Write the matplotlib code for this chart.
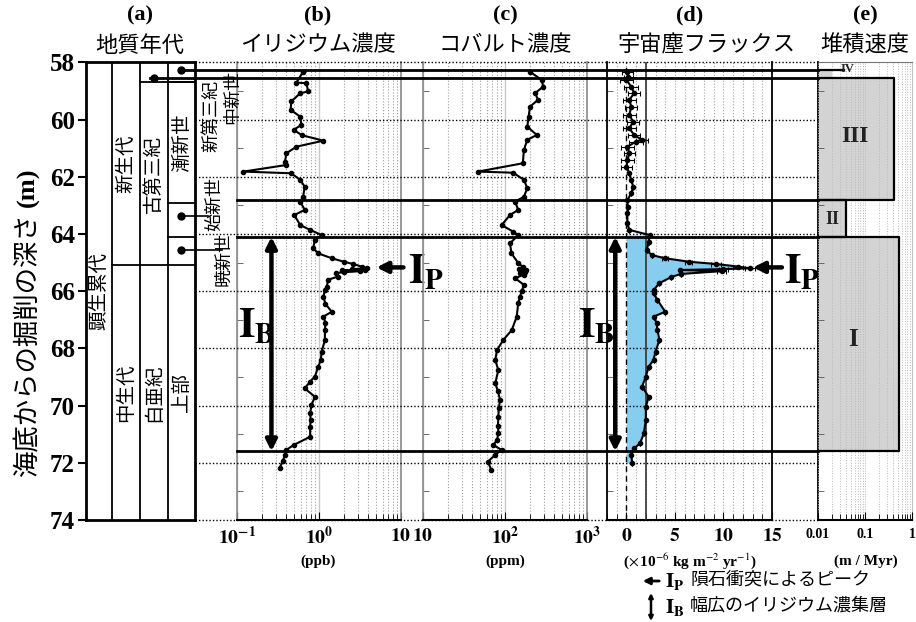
import numpy as np
import matplotlib.pyplot as plt
from matplotlib.lines import Line2D
from matplotlib.patches import FancyArrowPatch
from matplotlib.transforms import blended_transform_factory
from matplotlib.ticker import FixedLocator, MultipleLocator, NullFormatter, LogLocator

plt.rcParams['mathtext.fontset'] = 'stix'
JP = 'Noto Sans CJK JP'
SERIF = 'Liberation Serif'

# Ir concentration (ppb) vs depth (m)
ir_depth = [58.33, 58.71, 58.73, 59.02, 59.08, 59.37, 59.66, 59.90, 60.19, 60.36,
            60.55, 60.74, 60.95, 61.18, 61.47, 61.59, 61.82, 61.88, 62.11, 62.35,
            62.70, 62.87, 63.16, 63.34, 63.69, 63.86, 64.04, 64.21, 64.50, 64.68,
            64.85, 64.97, 65.05, 65.14, 65.20, 65.23, 65.25, 65.27, 65.30, 65.34,
            65.37, 65.49, 65.60, 65.84, 65.96, 66.19, 66.45, 66.72, 66.89, 67.10,
            67.36, 67.71, 68.11, 68.40, 68.64, 68.99, 69.16, 69.40, 69.69, 69.98,
            70.27, 70.50, 70.74, 71.09, 71.38, 71.55, 71.72, 71.95, 72.19]
ir_ppb = [0.64, 0.53, 0.70, 0.74, 0.59, 0.46, 0.45, 0.59, 0.61, 0.49,
          0.62, 1.13, 0.53, 0.40, 0.385, 0.40, 0.12, 0.46, 0.59, 0.67,
          0.64, 0.59, 0.67, 0.50, 0.59, 0.78, 1.08, 0.89, 0.85, 0.98,
          1.43, 2.0, 2.6, 3.3, 3.9, 2.5, 3.6, 1.9, 3.2, 2.0,
          1.6, 1.7, 1.3, 1.24, 1.18, 1.13, 1.2, 1.43, 1.13, 1.2,
          1.18, 1.18, 1.08, 1.05, 0.98, 0.89, 0.78, 0.67, 0.89, 0.81,
          0.78, 0.79, 0.78, 0.78, 0.49, 0.40, 0.385, 0.36, 0.33]

# Co concentration (ppm)
co_depth = [58.33, 58.62, 58.85, 59.08, 59.31, 59.55, 59.90, 60.25, 60.54, 60.71,
            61.06, 61.53, 61.82, 61.86, 62.11, 62.40, 62.70, 62.87, 63.16, 63.34,
            63.69, 63.92, 64.04, 64.33, 64.68, 65.02, 65.15, 65.22, 65.26, 65.30,
            65.34, 65.37, 65.42, 65.55, 65.78, 66.00, 66.19, 66.42, 66.89, 67.36,
            67.71, 68.06, 68.41, 68.76, 69.22, 69.50, 69.80, 70.10, 70.39, 70.70,
            70.97, 71.20, 71.38, 71.55, 71.72, 71.96, 72.25]
co_ppm = [202, 281, 292, 233, 253, 202, 194, 187, 244, 187,
          170, 165, 47, 126, 170, 187, 170, 133, 145, 115,
          91, 126, 145, 115, 120, 145, 165, 150, 180, 155,
          175, 152, 170, 133, 170, 160, 152, 145, 139, 121,
          95, 80, 76, 83, 76, 82, 87, 84, 83, 82,
          83, 80, 72, 91, 76, 62, 68]

# Extraterrestrial dust flux (1e-6 kg m-2 yr-1) with uncertainty
flux_depth = [58.33, 58.50, 58.62, 58.85, 59.08, 59.31, 59.55, 59.84, 60.08, 60.31,
              60.54, 60.71, 60.77, 60.95, 61.18, 61.42, 61.65, 61.88, 62.11, 62.35,
              62.58, 62.82, 63.05, 63.28, 63.63, 63.86, 64.04, 64.27, 64.56, 64.74,
              64.85, 64.97, 65.05, 65.14, 65.20, 65.23, 65.26, 65.30, 65.40, 65.51,
              65.72, 65.96, 66.07, 66.31, 66.72, 66.89, 67.10, 67.36, 67.71, 68.11,
              68.40, 68.64, 68.99, 69.34, 69.69, 70.04, 70.50, 70.97, 71.32, 71.50,
              71.72, 72.00]
flux = [0.1, 0.2, 0.0, 0.5, 0.8, 0.3, 0.5, 0.3, 0.7, 0.3,
        0.8, 1.6, 1.0, 0.1, 0.3, 0.1, 0.0, 0.3, 0.5, 0.7,
        0.5, 0.1, 0.15, 0.1, 0.1, 0.3, 2.4, 2.3, 2.1, 2.6,
        4.0, 6.4, 9.2, 11.5, 12.7, 10.0, 5.5, 9.8, 5.6, 4.6,
        3.4, 2.8, 2.8, 3.2, 4.0, 2.8, 3.1, 3.2, 3.4, 3.0,
        2.8, 2.3, 2.0, 1.6, 2.3, 2.0, 2.0, 1.8, 1.4, 0.8,
        0.5, 0.6]
flux_err = [0.6, 0.5, 0.7, 0.7, 0.6, 0.7, 0.6, 0.7, 0.6, 0.7,
            0.6, 0.6, 0.7, 0.7, 0.6, 0.7, 0.6, 0.0, 0.0, 0.0,
            0.0, 0.0, 0.0, 0.0, 0.0, 0.0, 0.0, 0.0, 0.0, 0.0,
            0.3, 0.4, 0.5, 0.5, 0.5, 0.5, 0.0, 0.5, 0.0, 0.0,
            0.0, 0.0, 0.0, 0.0, 0.0, 0.0, 0.0, 0.0, 0.0, 0.0,
            0.0, 0.0, 0.0, 0.0, 0.0, 0.0, 0.0, 0.0, 0.0, 0.0,
            0.0, 0.0]

# Sedimentation rate intervals (m/Myr)
rate_names = ['IV', 'III', 'II', 'I']
rate_top = [58.27, 58.56, 62.83, 64.10]
rate_bottom = [58.56, 62.83, 64.10, 71.60]
rate_value = [0.02, 0.42, 0.04, 0.53]
iv_marker = 0.035

# Geologic time scale: (label, top, bottom, column)
strat_units = [
    ('顕生累代', 58.0, 74.0, 0),
    ('新生代', 58.0, 65.1, 1),
    ('中生代', 65.1, 74.0, 1),
    ('古第三紀', 58.7, 65.1, 2),
    ('白亜紀', 65.1, 74.0, 2),
    ('漸新世', 58.7, 62.93, 3),
    ('上部', 65.1, 74.0, 3),
]
strat_bounds = [(65.1, 1), (58.7, 2), (58.7, 3), (62.93, 3), (64.1, 3)]
# small units shown with a dot and an outside label
strat_dots = [(58.27, 3), (58.56, 2), (63.36, 3), (64.56, 3)]
boundary_depths = [58.27, 58.56, 62.83, 64.10, 71.60]

W, H = 916, 622
TOP, BOT = 62.3, 520.0


def box(x0, x1):
    return [x0 / W, 1 - BOT / H, (x1 - x0) / W, (BOT - TOP) / H]


def fx(x):
    return x / W


def fy(y):
    return 1 - y / H


fig = plt.figure(figsize=(W / 100, H / 100), dpi=100)

axa = fig.add_axes(box(86, 195))
axb = fig.add_axes(box(237, 401))
axc = fig.add_axes(box(423, 587))
axd = fig.add_axes(box(607, 772))
axe = fig.add_axes(box(818, 912))

for ax in (axa, axb, axc, axd, axe):
    ax.set_ylim(74, 58)
    ax.patch.set_alpha(0)

# ---- (a) geologic column
col_edges = [0, 0.95, 1.98, 3.0, 4.0]
axa.set_xlim(0, 4)
axa.set_xticks([])
for s in axa.spines.values():
    s.set_linewidth(2)
for xe in col_edges[1:-1]:
    axa.axvline(xe, color='k', lw=1.3)
for d, c in strat_bounds:
    axa.plot([col_edges[c], 4], [d, d], color='k', lw=1.3)
for name, t, b, c in strat_units:
    axa.text((col_edges[c] + col_edges[c + 1]) / 2, (t + b) / 2, name, rotation=90,
             ha='center', va='center', fontsize=14, family=JP)
for d, c in strat_dots:
    axa.plot((col_edges[c] + col_edges[c + 1]) / 2, d, 'o', color='k', ms=5)
axa.set_yticks(np.arange(58, 75, 2))
axa.set_yticklabels([str(v) for v in range(58, 75, 2)], fontsize=18,
                    family=SERIF, weight='bold')
axa.tick_params(axis='y', direction='out', length=6, width=1.5, pad=2)

# ---- shared styling for data panels
for ax in (axb, axc, axd, axe):
    ax.yaxis.set_major_locator(FixedLocator([]))
    ax.yaxis.set_minor_locator(FixedLocator(np.arange(59, 74, 2)))
    ax.tick_params(axis='y', which='minor', direction='in', length=4, left=True,
                   right=False, labelleft=False, color='#555')
    ax.tick_params(axis='x', which='major', direction='in', length=6, pad=4)
    ax.tick_params(axis='x', which='minor', direction='in', length=4)
    ax.spines['top'].set_visible(False)
    ax.spines['bottom'].set_linewidth(1.5)

for ax, lo, hi in ((axb, 0.1, 10), (axc, 10, 1000)):
    ax.set_xscale('log')
    ax.set_xlim(lo, hi)
    ax.xaxis.set_minor_locator(LogLocator(subs=np.arange(2, 10)))
    ax.xaxis.set_minor_formatter(NullFormatter())
    ax.grid(which='minor', axis='x', ls=':', color='#a0a0a0', lw=0.8)
    ax.grid(which='major', axis='x', ls='-', color='#c8c8c8', lw=1.0)
    for side in ('left', 'right'):
        ax.spines[side].set_color('#8a8a8a')
        ax.spines[side].set_linewidth(1.2)

tick_font = dict(fontsize=14)
axb.set_xticks([0.1, 1, 10])
axb.set_xticklabels([r'$\mathbf{10^{-1}}$', r'$\mathbf{10^{0}}$', r'$\mathbf{10}$'], **tick_font)
axc.set_xticks([10, 100, 1000])
axc.set_xticklabels([r'$\mathbf{10}$', r'$\mathbf{10^{2}}$', r'$\mathbf{10^{3}}$'], **tick_font)

axb.plot(ir_ppb, ir_depth, '-o', color='k', lw=1.5, ms=3, zorder=4)
axc.plot(co_ppm, co_depth, '-o', color='k', lw=1.5, ms=3, zorder=4)

# ---- (d) dust flux
axd.set_xlim(-2, 15)
axd.set_xticks([0, 5, 10, 15])
axd.set_xticklabels([r'$\mathbf{%d}$' % v for v in (0, 5, 10, 15)], **tick_font)
axd.xaxis.set_minor_locator(MultipleLocator(1))
axd.grid(which='both', axis='x', ls=':', color='#a0a0a0', lw=0.8)
axd.axvline(0, color='k', ls=(0, (4, 3)), lw=1.0, zorder=3)
axd.axvline(2, color='#333', lw=1.2, zorder=3)
for side in ('left', 'right'):
    axd.spines[side].set_linewidth(1.3)
fd = np.array(flux_depth)
fv = np.array(flux)
sel = fd >= 64.04
axd.fill_betweenx(fd[sel], 0, fv[sel], color='#86cdef', lw=0, zorder=2)
axd.errorbar(flux, flux_depth, xerr=flux_err, fmt='-o', color='k', lw=1.5, ms=3,
             elinewidth=0.8, capsize=1.8, capthick=0.8, zorder=4)

# ---- (e) sedimentation rate
axe.set_xscale('log')
axe.set_xlim(0.01, 1.0)
axe.set_xticks([0.01, 0.1, 1])
axe.set_xticklabels(['0.01', '0.1', '1'], fontsize=10, family=SERIF, weight='bold')
axe.xaxis.set_minor_locator(LogLocator(subs=np.arange(2, 10)))
axe.xaxis.set_minor_formatter(NullFormatter())
axe.tick_params(axis='x', which='major', pad=6)
axe.grid(which='both', axis='x', ls=':', color='#b8b8b8', lw=0.7)
axe.set_axisbelow(False)
axe.spines['left'].set_linewidth(1.3)
axe.spines['right'].set_color('#c0c0c0')
axe.spines['top'].set_visible(True)
axe.spines['top'].set_color('#777')
for name, t, b, v in zip(rate_names, rate_top, rate_bottom, rate_value):
    axe.barh((t + b) / 2, v - 0.01, left=0.01, height=b - t, color='#d3d3d3',
             edgecolor='none', zorder=1)
    if name != 'IV':
        axe.plot([0.01, v, v, 0.01], [t, t, b, b], color='k', lw=1.6, zorder=3,
                 clip_on=False)
axe.plot([0.01, iv_marker], [rate_top[0], rate_top[0]], color='k', lw=1.6, zorder=3)
roman_pos = {'IV': (0.042, 58.22, 9), 'III': (0.062, 60.6, 17),
             'II': (0.02, 63.5, 13), 'I': (0.056, 67.7, 18)}
for name in rate_names:
    x, y, fs = roman_pos[name]
    axe.text(x, y, name, ha='center', va='center', fontsize=fs, family=SERIF,
             weight='bold', color='#222')

# ---- lines spanning the panels
yx = blended_transform_factory(fig.transFigure, axb.transData)
for d in range(58, 75, 2):
    fig.add_artist(Line2D([fx(195), fx(818)], [d, d], transform=yx, color='k',
                          lw=1.0, ls=(0, (1, 1.5)), zorder=3))
for d, x0 in zip(boundary_depths, [181.7, 150, 237, 237, 237]):
    fig.add_artist(Line2D([fx(x0), fx(818)], [d, d], transform=yx, color='k',
                          lw=2.0, zorder=3))
for d, x1 in ((63.36, 208), (64.56, 222)):
    fig.add_artist(Line2D([fx(181.7), fx(x1)], [d, d], transform=yx, color='k',
                          lw=1.2, zorder=3))

# outside epoch labels
for txt, x, y in (('新第三紀', 211, 116), ('中新世', 232, 97),
                  ('始新世', 214, 204), ('暁新世', 223, 259)):
    fig.text(fx(x), fy(y), txt, rotation=90, ha='center', va='center',
             fontsize=13, family=JP)

# ---- I_P / I_B annotations
arrow_kw = dict(arrowstyle='-|>', lw=3.2, color='k', mutation_scale=16,
                shrinkA=0, shrinkB=0)
both_kw = dict(arrowstyle='<|-|>', lw=3.2, color='k', mutation_scale=16,
               shrinkA=0, shrinkB=0)
for ax, xhead, xtail, xtxt, xb, xbt in ((axb, 0.85, 1.015, 1.04, 0.21, 0.005),
                                        (axd, 0.885, 1.06, 1.075, 0.05, -0.175)):
    tr = ax.get_yaxis_transform()
    ax.annotate('', xy=(xhead, 65.17), xytext=(xtail, 65.17), xycoords=tr,
                textcoords=tr, arrowprops=arrow_kw, annotation_clip=False)
    ax.text(xtxt, 65.3, r'$\mathbf{I_{P}}$', transform=tr, fontsize=30,
            ha='left', va='center', clip_on=False)
    ax.annotate('', xy=(xb, 71.6), xytext=(xb, 64.1), xycoords=tr,
                textcoords=tr, arrowprops=both_kw, annotation_clip=False)
    ax.text(xbt, 67.2, r'$\mathbf{I_{B}}$', transform=tr, fontsize=30,
            ha='left', va='center', clip_on=False)

# ---- titles
for lab, name, x, xn in (('(a)', '地質年代', 140, 140), ('(b)', 'イリジウム濃度', 318, 318),
                         ('(c)', 'コバルト濃度', 505, 505), ('(d)', '宇宙塵フラックス', 690, 706),
                         ('(e)', '堆積速度', 865, 865)):
    fig.text(fx(x), fy(15), lab, ha='center', va='center', fontsize=16,
             family=SERIF, weight='bold')
    fig.text(fx(xn), fy(45), name, ha='center', va='center', fontsize=16, family=JP)

# units below the axes
for txt, x in (('(ppb)', 318), ('(ppm)', 505),
               (r'($\times\,$10$^{-6}$ kg m$^{-2}$ yr$^{-1}$)', 690), ('(m / Myr)', 866)):
    fig.text(fx(x), fy(561), txt, ha='center', va='center', fontsize=11,
             family=SERIF, weight='bold')

# depth label
ylab = fig.text(fx(28), fy(476), '海底からの掘削の深さ', rotation=90, ha='center',
                va='bottom', fontsize=19, family=JP)
fig.canvas.draw()
bb = ylab.get_window_extent()
fig.text(fx(28), bb.y1 / H + 0.008, '(m)', rotation=90, ha='center', va='bottom',
         fontsize=19, family=SERIF, weight='bold')

# legend for the arrows
fig.add_artist(FancyArrowPatch((fx(662), fy(581)), (fx(640), fy(581)),
                               transform=fig.transFigure, arrowstyle='-|>',
                               mutation_scale=10, lw=2, color='k'))
fig.add_artist(FancyArrowPatch((fx(651), fy(593)), (fx(651), fy(621)),
                               transform=fig.transFigure, arrowstyle='<|-|>',
                               mutation_scale=6, lw=1.8, color='k',
                               shrinkA=0, shrinkB=0))
fig.text(fx(665), fy(582), r'$\mathbf{I_{P}}$', ha='left', va='center', fontsize=15)
fig.text(fx(665), fy(608), r'$\mathbf{I_{B}}$', ha='left', va='center', fontsize=15)
fig.text(fx(690), fy(580), '隕石衝突によるピーク', ha='left', va='center',
         fontsize=13, family=JP)
fig.text(fx(690), fy(606), '幅広のイリジウム濃集層', ha='left', va='center',
         fontsize=13, family=JP)

fig.savefig('out.png', dpi=100)
